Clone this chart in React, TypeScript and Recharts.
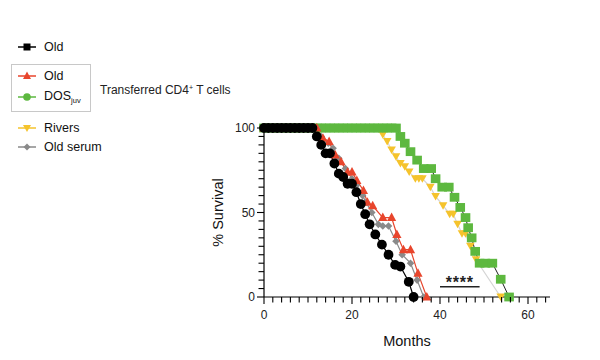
import React from 'react';
import { LineChart, Line, XAxis, YAxis, ReferenceLine, Label } from 'recharts';

// ---- Data (months, % survival) ----
const oldMonths = [0, 1, 2, 3, 4, 5, 6, 7, 8, 9, 10, 11, 12, 13, 14, 15, 16, 17, 18, 19, 20, 21, 22, 23, 24, 25.3, 26.8, 28.3, 29.8, 31, 32.9, 34];
const oldSurvival = [100, 100, 100, 100, 100, 100, 100, 100, 100, 100, 100, 100, 95, 90, 85, 85, 79, 73, 71, 67, 67, 62, 55, 49, 43, 37, 31, 25, 19, 18, 9, 0];

const oldTMonths = [0, 12, 13.4, 14.8, 16.2, 17.5, 19, 20, 21.1, 22.6, 23.5, 24.7, 27, 29, 30.2, 31.7, 33.3, 35, 37];
const oldTSurvival = [100, 100, 94, 92, 84, 80, 74, 74, 69, 63, 56, 54, 47, 47, 37, 28, 28, 14, 0];

const dosMonths = [0, 1, 2, 3, 4, 5, 6, 7, 8, 9, 10, 11, 12, 13, 14, 15, 16, 17, 18, 19, 20, 21, 22, 23, 24, 25, 26, 27, 28, 29, 30, 31, 32, 33.3, 34.8, 36.3, 38, 39, 40.5, 42, 43.3, 44.6, 45.8, 46.4, 47.2, 48, 49, 50.3, 51.9, 53.8, 55.7];
const dosSurvival = [100, 100, 100, 100, 100, 100, 100, 100, 100, 100, 100, 100, 100, 100, 100, 100, 100, 100, 100, 100, 100, 100, 100, 100, 100, 100, 100, 100, 100, 100, 100, 95, 91, 86, 81, 76, 76, 70, 65, 65, 59, 53, 47, 41, 35, 27, 20, 20, 20, 10.5, 0];

const riversMonths = [0, 26, 27, 28, 29, 30, 31, 32, 33, 34.4, 35.2, 36, 37.8, 39, 40.7, 42.2, 43, 44, 45, 45.8, 46.9, 48.2, 53.8];
const riversSurvival = [100, 100, 96, 92, 87, 83, 79, 77, 74, 70, 70, 70, 65, 59.5, 54, 49, 49, 43, 37.5, 37.5, 30, 22, 0];

const serumMonths = [0, 12, 13, 14.6, 15.7, 17, 18.5, 20, 21, 22.4, 23.2, 24.5, 26, 27, 28.3, 30, 31.4, 33.3, 34.8, 36.3];
const serumSurvival = [100, 100, 95, 91, 88, 82, 76, 70, 66, 60, 56, 50, 43, 42, 42, 33, 25, 20, 10, 0];

const xTicks = [0, 2, 4, 6, 8, 10, 12, 14, 16, 18, 20, 22, 24, 26, 28, 30, 32, 34, 36, 38, 40, 42, 44, 46, 48, 50, 52, 54, 56, 58, 60, 62, 64];
const xMajor = [0, 20, 40, 60];
const yTicks = [0, 5, 10, 15, 20, 25, 30, 35, 40, 45, 50, 55, 60, 65, 70, 75, 80, 85, 90, 95, 100];
const yMajor = [0, 50, 100];

const sigStart = 40;
const sigEnd = 49;
const sigLevel = 6;
const sigText = '****';

const BLACK = '#000000';
const RED = '#e8452c';
const GREEN = '#5db83f';
const YELLOW = '#f5c32c';
const GRAY = '#8a8a8a';
const FONT = '"Liberation Sans", Arial, Helvetica, sans-serif';

const toData = (ms: number[], ss: number[]) => ms.map((m, i) => ({ m, s: ss[i] }));

const oldData = toData(oldMonths, oldSurvival);
const oldTData = toData(oldTMonths, oldTSurvival);
const dosData = toData(dosMonths, dosSurvival);
const riversData = toData(riversMonths, riversSurvival);
const serumData = toData(serumMonths, serumSurvival);

type Shape = 'circle' | 'triangle' | 'square' | 'down' | 'diamond';

const makeDot = (shape: Shape, color: string) => (props: any) => {
  const { cx, cy, index } = props;
  const k = `${shape}-${index}`;
  if (cx == null || cy == null) return <g key={k} />;
  switch (shape) {
    case 'circle':
      return <circle key={k} cx={cx} cy={cy} r={4.9} fill={color} />;
    case 'square':
      return <rect key={k} x={cx - 4.8} y={cy - 4.4} width={9.6} height={8.8} fill={color} />;
    case 'triangle':
      return <polygon key={k} points={`${cx},${cy - 5} ${cx + 4.6},${cy + 3.5} ${cx - 4.6},${cy + 3.5}`} fill={color} />;
    case 'down':
      return <polygon key={k} points={`${cx - 4.3},${cy - 3.5} ${cx + 4.3},${cy - 3.5} ${cx},${cy + 4}`} fill={color} />;
    case 'diamond':
      return <polygon key={k} points={`${cx},${cy - 3.8} ${cx + 3.8},${cy} ${cx},${cy + 3.8} ${cx - 3.8},${cy}`} fill={color} />;
  }
  return <g key={k} />;
};

const XTick = (props: any) => {
  const { x, y, payload } = props;
  const v = payload.value;
  const major = xMajor.includes(v);
  return (
    <g>
      <line x1={x} x2={x} y1={y} y2={y + (major ? 7 : 5.5)} stroke="#000" strokeWidth={1.1} />
      {major && (
        <text x={x} y={y + 22} textAnchor="middle" fontSize={12} fill="#222" fontFamily={FONT}>
          {v}
        </text>
      )}
    </g>
  );
};

const YTick = (props: any) => {
  const { x, y, payload } = props;
  const v = payload.value;
  const major = yMajor.includes(v);
  return (
    <g>
      <line x1={x - (major ? 7 : 5.5)} x2={x} y1={y} y2={y} stroke="#000" strokeWidth={1.1} />
      {major && (
        <text x={x - 9} y={y + 4.3} textAnchor="end" fontSize={12} fill="#222" fontFamily={FONT}>
          {v}
        </text>
      )}
    </g>
  );
};

const LegendIcon = ({ shape, color }: { shape: Shape; color: string }) => (
  <svg width={20} height={12} style={{ display: 'block' }}>
    <line x1={1} x2={19} y1={6} y2={6} stroke={color} strokeWidth={1.5} />
    {shape === 'square' && <rect x={6.5} y={2.5} width={7} height={7} fill={color} />}
    {shape === 'circle' && <circle cx={10} cy={6} r={3.8} fill={color} />}
    {shape === 'triangle' && <polygon points="10,1.5 14,9 6,9" fill={color} />}
    {shape === 'down' && <polygon points="6,3 14,3 10,10" fill={color} />}
    {shape === 'diamond' && <polygon points="10,2.5 13.5,6 10,9.5 6.5,6" fill={color} />}
  </svg>
);

const LegendRow = ({ top, shape, color, children }: { top: number; shape: Shape; color: string; children: React.ReactNode }) => (
  <div style={{ position: 'absolute', left: 9, top: top - 6, height: 12, display: 'flex', alignItems: 'center' }}>
    <LegendIcon shape={shape} color={color} />
    <span style={{ marginLeft: 7, fontSize: 12.5, color: '#111', fontFamily: FONT, lineHeight: '12px', whiteSpace: 'nowrap' }}>{children}</span>
  </div>
);

export default function App() {
  return (
    <div style={{ position: 'relative', width: 592, height: 352, background: '#fff' }}>
      <LineChart width={592} height={352} margin={{ top: 120, right: 50, bottom: 33, left: 216 }}>
        <XAxis
          type="number"
          dataKey="m"
          domain={[0, 65]}
          ticks={xTicks}
          interval={0}
          tickSize={0}
          tickMargin={0}
          tickLine={false}
          tick={<XTick />}
          axisLine={{ stroke: '#000', strokeWidth: 1.2 }}
          height={30}
          allowDuplicatedCategory={false}
        >
          <Label
            content={(p: any) => {
              const vb = p.viewBox;
              return (
                <text x={vb.x + vb.width / 2} y={vb.y + 49} textAnchor="middle" fontSize={14.5} fill="#111" fontFamily={FONT}>
                  Months
                </text>
              );
            }}
          />
        </XAxis>
        <YAxis
          type="number"
          dataKey="s"
          domain={[0, 100]}
          ticks={yTicks}
          interval={0}
          tickSize={0}
          tickMargin={0}
          tickLine={false}
          tick={<YTick />}
          axisLine={{ stroke: '#000', strokeWidth: 1.2 }}
          width={40}
        >
          <Label
            content={(p: any) => {
              const vb = p.viewBox;
              const cx = vb.x - 1;
              const cy = vb.y + vb.height / 2;
              return (
                <text x={cx} y={cy} textAnchor="middle" fontSize={14.5} fill="#111" fontFamily={FONT} transform={`rotate(-90, ${cx}, ${cy})`}>
                  % Survival
                </text>
              );
            }}
          />
        </YAxis>
        <Line data={riversData} dataKey="s" type="linear" stroke="#d4d4d4" strokeWidth={1.2} dot={makeDot('down', YELLOW)} isAnimationActive={false} />
        <Line data={dosData} dataKey="s" type="linear" stroke="#222" strokeWidth={1} dot={makeDot('square', GREEN)} isAnimationActive={false} />
        <Line data={serumData} dataKey="s" type="linear" stroke={GRAY} strokeWidth={1.2} dot={makeDot('diamond', GRAY)} isAnimationActive={false} />
        <Line data={oldTData} dataKey="s" type="linear" stroke={RED} strokeWidth={1.2} dot={makeDot('triangle', RED)} isAnimationActive={false} />
        <Line data={oldData} dataKey="s" type="linear" stroke={BLACK} strokeWidth={1.2} dot={makeDot('circle', BLACK)} isAnimationActive={false} />
        <ReferenceLine
          segment={[{ x: sigStart, y: sigLevel }, { x: sigEnd, y: sigLevel }]}
          stroke="#222"
          strokeWidth={1.5}
          label={(p: any) => {
            const vb = p.viewBox || {};
            const mx = (vb.x ?? 0) + (vb.width ?? 0) / 2;
            const my = vb.y ?? 0;
            return (
              <text x={mx} y={my + 1} textAnchor="middle" fontSize={16} fontWeight="bold" letterSpacing={0.8} fill="#222" fontFamily={FONT}>
                {sigText}
              </text>
            );
          }}
        />
      </LineChart>

      <LegendRow top={38.7} shape="square" color={BLACK}>Old</LegendRow>
      <div style={{ position: 'absolute', left: 3, top: 56, width: 80, height: 48, border: '1px solid #c8c8c8', boxSizing: 'border-box' }} />
      <LegendRow top={67.7} shape="triangle" color={RED}>Old</LegendRow>
      <LegendRow top={88.7} shape="circle" color={GREEN}>
        DOS<sub style={{ fontSize: 7.5, verticalAlign: 'baseline', position: 'relative', top: 3 }}>juv</sub>
      </LegendRow>
      <div style={{ position: 'absolute', left: 92, top: 75, fontSize: 12, color: '#222', fontFamily: FONT, lineHeight: '14px', whiteSpace: 'nowrap' }}>
        Transferred CD4<sup style={{ fontSize: 7, verticalAlign: 'baseline', position: 'relative', top: -4 }}>+</sup> T cells
      </div>
      <LegendRow top={120} shape="down" color={YELLOW}>Rivers</LegendRow>
      <LegendRow top={139} shape="diamond" color={GRAY}>Old serum</LegendRow>
    </div>
  );
}
